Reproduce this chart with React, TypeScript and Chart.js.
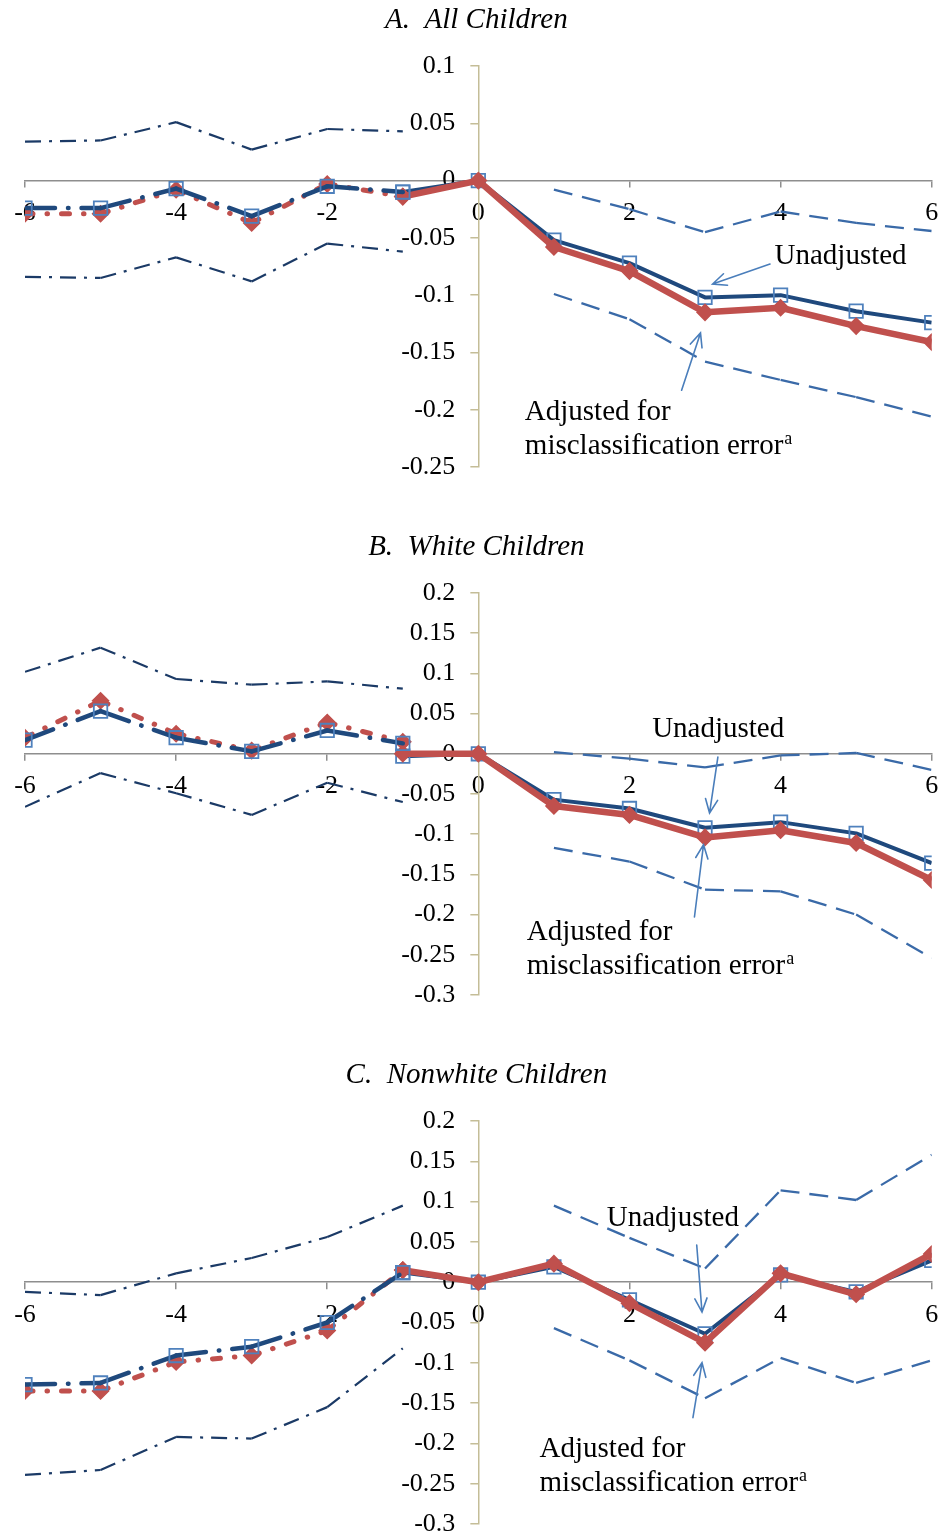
import React, { useEffect, useRef } from 'react';
import { Chart, registerables } from 'chart.js';

Chart.register(...registerables);

// ---------- shared axes ----------
const PRE_X = [-6, -5, -4, -3, -2, -1];
const POST_X = [-1, 0, 1, 2, 3, 4, 5, 6];
const CI_POST_X = [1, 2, 3, 4, 5, 6];
const X_TICKS = [-6, -4, -2, 0, 2, 4, 6];
const X_TICK_LABELS = ['-6', '-4', '-2', '0', '2', '4', '6'];

const Y_TICKS_A = [-0.25, -0.2, -0.15, -0.1, -0.05, 0, 0.05, 0.1];
const Y_TICK_LABELS_A = ['-0.25', '-0.2', '-0.15', '-0.1', '-0.05', '0', '0.05', '0.1'];
const Y_TICKS_BC = [-0.3, -0.25, -0.2, -0.15, -0.1, -0.05, 0, 0.05, 0.1, 0.15, 0.2];
const Y_TICK_LABELS_BC = ['-0.3', '-0.25', '-0.2', '-0.15', '-0.1', '-0.05', '0', '0.05', '0.1', '0.15', '0.2'];

// ---------- Panel A: All Children ----------
const PRE_UNADJ_A = [-0.024, -0.024, -0.007, -0.031, -0.005, -0.010];
const PRE_ADJ_A = [-0.029, -0.029, -0.008, -0.037, -0.003, -0.014];
const PRE_UPPER_A = [0.034, 0.035, 0.051, 0.027, 0.045, 0.043];
const PRE_LOWER_A = [-0.084, -0.085, -0.067, -0.088, -0.055, -0.062];
const POST_UNADJ_A = [-0.010, 0, -0.052, -0.072, -0.102, -0.100, -0.114, -0.124];
const POST_ADJ_A = [-0.014, 0, -0.058, -0.079, -0.115, -0.111, -0.127, -0.141];
const POST_UPPER_A = [-0.008, -0.025, -0.045, -0.027, -0.037, -0.044];
const POST_LOWER_A = [-0.099, -0.121, -0.158, -0.174, -0.189, -0.206];

// ---------- Panel B: White Children ----------
const PRE_UNADJ_B = [0.017, 0.053, 0.020, 0.003, 0.029, 0.013];
const PRE_ADJ_B = [0.020, 0.066, 0.025, 0.004, 0.039, 0.015];
const PRE_UPPER_B = [0.102, 0.132, 0.093, 0.086, 0.090, 0.081];
const PRE_LOWER_B = [-0.066, -0.024, -0.049, -0.076, -0.036, -0.060];
const POST_UNADJ_B = [-0.003, 0, -0.057, -0.068, -0.092, -0.085, -0.099, -0.136];
const POST_ADJ_B = [0, 0, -0.065, -0.076, -0.104, -0.095, -0.111, -0.157];
const POST_UPPER_B = [0.002, -0.006, -0.017, -0.002, 0.001, -0.020];
const POST_LOWER_B = [-0.117, -0.134, -0.169, -0.171, -0.200, -0.254];

// ---------- Panel C: Nonwhite Children ----------
const PRE_UNADJ_C = [-0.127, -0.125, -0.091, -0.080, -0.050, 0.012];
const PRE_ADJ_C = [-0.135, -0.135, -0.099, -0.091, -0.060, 0.015];
const PRE_UPPER_C = [-0.012, -0.016, 0.011, 0.030, 0.056, 0.095];
const PRE_LOWER_C = [-0.239, -0.233, -0.192, -0.194, -0.155, -0.082];
const POST_UNADJ_C = [0.012, 0, 0.019, -0.022, -0.064, 0.009, -0.012, 0.027];
const POST_ADJ_C = [0.015, 0, 0.023, -0.026, -0.075, 0.011, -0.015, 0.035];
const POST_UPPER_C = [0.095, 0.055, 0.017, 0.114, 0.102, 0.158];
const POST_LOWER_C = [-0.057, -0.097, -0.144, -0.094, -0.125, -0.097];

const TITLES = ['A.  All Children', 'B.  White Children', 'C.  Nonwhite Children'];
const UNADJ_LABEL = 'Unadjusted';
const ADJ_LABEL_1 = 'Adjusted for';
const ADJ_LABEL_2 = 'misclassification error';
const ADJ_SUP = 'a';

// ---------- styling ----------
const NAVY = '#1F497D';
const DARK_NAVY = '#1B3A66';
const MARKER_BLUE = '#4F81BD';
const RED = '#C0504D';
const CI_BLUE = '#3A6AA8';
const ARROW_BLUE = '#4A7EBB';
const X_AXIS_GRAY = '#8E8E8E';
const Y_AXIS_TAN = '#C4BD97';
const SERIF = '"Liberation Serif", "Times New Roman", serif';

type Panel = {
  title: string;
  top: number;
  height: number;
  pad: { top: number; bottom: number; left: number; right: number };
  yMin: number;
  yMax: number;
  yTicks: number[];
  yLabels: string[];
  preUnadj: number[];
  preAdj: number[];
  preUpper: number[];
  preLower: number[];
  postUnadj: number[];
  postAdj: number[];
  postUpper: number[];
  postLower: number[];
  unadjText: [number, number];
  unadjArrow: [number, number, number, number];
  adjText: [number, number, number];
  adjArrow: [number, number, number, number];
};

const PANELS: Panel[] = [
  {
    title: TITLES[0], top: 0, height: 528,
    pad: { top: 66, bottom: 61, left: 25, right: 11 },
    yMin: -0.25, yMax: 0.1, yTicks: Y_TICKS_A, yLabels: Y_TICK_LABELS_A,
    preUnadj: PRE_UNADJ_A, preAdj: PRE_ADJ_A, preUpper: PRE_UPPER_A, preLower: PRE_LOWER_A,
    postUnadj: POST_UNADJ_A, postAdj: POST_ADJ_A, postUpper: POST_UPPER_A, postLower: POST_LOWER_A,
    unadjText: [3.92, -0.0658],
    unadjArrow: [3.86, -0.0728, 3.10, -0.0903],
    adjText: [0.615, -0.202, -0.232],
    adjArrow: [2.69, -0.183, 2.94, -0.133],
  },
  {
    title: TITLES[1], top: 528, height: 528,
    pad: { top: 65, bottom: 61, left: 25, right: 11 },
    yMin: -0.3, yMax: 0.2, yTicks: Y_TICKS_BC, yLabels: Y_TICK_LABELS_BC,
    preUnadj: PRE_UNADJ_B, preAdj: PRE_ADJ_B, preUpper: PRE_UPPER_B, preLower: PRE_LOWER_B,
    postUnadj: POST_UNADJ_B, postAdj: POST_ADJ_B, postUpper: POST_UPPER_B, postLower: POST_LOWER_B,
    unadjText: [2.30, 0.0308],
    unadjArrow: [3.17, -0.004, 3.06, -0.0736],
    adjText: [0.64, -0.2216, -0.264],
    adjArrow: [2.86, -0.203, 2.98, -0.113],
  },
  {
    title: TITLES[2], top: 1056, height: 481,
    pad: { top: 65, bottom: 13, left: 25, right: 11 },
    yMin: -0.3, yMax: 0.2, yTicks: Y_TICKS_BC, yLabels: Y_TICK_LABELS_BC,
    preUnadj: PRE_UNADJ_C, preAdj: PRE_ADJ_C, preUpper: PRE_UPPER_C, preLower: PRE_LOWER_C,
    postUnadj: POST_UNADJ_C, postAdj: POST_ADJ_C, postUpper: POST_UPPER_C, postLower: POST_LOWER_C,
    unadjText: [1.70, 0.0797],
    unadjArrow: [2.89, 0.0462, 2.96, -0.037],
    adjText: [0.81, -0.207, -0.249],
    adjArrow: [2.84, -0.168, 2.96, -0.100],
  },
];

const pts = (xs: number[], ys: number[]) => xs.map((x, i) => ({ x, y: ys[i] }));

// restart dash pattern on every segment (as the original does)
const restartDash = { borderDashOffset: (c: any) => (c.p0DataIndex % 2) * 0.001 };

function drawArrow(ctx: CanvasRenderingContext2D, x1: number, y1: number, x2: number, y2: number) {
  const ang = Math.atan2(y2 - y1, x2 - x1);
  const L = 15;
  const spread = 0.42;
  ctx.beginPath();
  ctx.moveTo(x1, y1);
  ctx.lineTo(x2, y2);
  ctx.moveTo(x2 - L * Math.cos(ang - spread), y2 - L * Math.sin(ang - spread));
  ctx.lineTo(x2, y2);
  ctx.lineTo(x2 - L * Math.cos(ang + spread), y2 - L * Math.sin(ang + spread));
  ctx.stroke();
}

// Move both axes so that they cross at (0, 0), like the original figure.
// The scale boxes are widened so their (clipped) tick labels stay visible.
const crossAxes = {
  id: 'crossAxes',
  afterLayout(chart: any) {
    const xs = chart.scales.x;
    const ys = chart.scales.y;
    const px = xs.getPixelForValue(0);
    const py = ys.getPixelForValue(0);
    ys.left = 0;
    ys.right = px;
    ys.width = px;
    xs.top = py;
    xs.bottom = chart.height;
    xs.height = chart.height - py;
  },
};

function decorPlugin(p: Panel) {
  return {
    id: 'panelDecor',
    afterDatasetsDraw(chart: any) {
      const { ctx, chartArea, scales } = chart;
      const xs = scales.x;
      const ys = scales.y;
      ctx.save();
      // title
      ctx.fillStyle = '#000';
      ctx.font = `italic 29px ${SERIF}`;
      ctx.textAlign = 'center';
      ctx.textBaseline = 'alphabetic';
      ctx.fillText(p.title, (chartArea.left + chartArea.right) / 2 - 2, chartArea.top - 38);
      // annotation labels
      ctx.font = `29px ${SERIF}`;
      ctx.textAlign = 'left';
      ctx.textBaseline = 'middle';
      ctx.fillText(UNADJ_LABEL, xs.getPixelForValue(p.unadjText[0]), ys.getPixelForValue(p.unadjText[1]));
      const ax = xs.getPixelForValue(p.adjText[0]);
      ctx.fillText(ADJ_LABEL_1, ax, ys.getPixelForValue(p.adjText[1]));
      const l2 = ys.getPixelForValue(p.adjText[2]);
      ctx.fillText(ADJ_LABEL_2, ax, l2);
      const w = ctx.measureText(ADJ_LABEL_2).width;
      ctx.font = `18px ${SERIF}`;
      ctx.fillText(ADJ_SUP, ax + w + 1, l2 - 7);
      // arrows
      ctx.strokeStyle = ARROW_BLUE;
      ctx.lineWidth = 1.6;
      ctx.lineCap = 'round';
      const a = p.unadjArrow;
      drawArrow(ctx, xs.getPixelForValue(a[0]), ys.getPixelForValue(a[1]), xs.getPixelForValue(a[2]), ys.getPixelForValue(a[3]));
      const b = p.adjArrow;
      drawArrow(ctx, xs.getPixelForValue(b[0]), ys.getPixelForValue(b[1]), xs.getPixelForValue(b[2]), ys.getPixelForValue(b[3]));
      ctx.restore();
    },
  };
}

function buildConfig(p: Panel): any {
  const tickFont = { family: SERIF, size: 26 };
  const zeroSize = (s: any, dim: 'width' | 'height') => {
    s[dim] = 0;
    s.paddingLeft = 0;
    s.paddingRight = 0;
    s.paddingTop = 0;
    s.paddingBottom = 0;
  };
  const square = {
    pointStyle: 'rect', pointRadius: 9.5, pointBorderColor: MARKER_BLUE, pointBorderWidth: 1.8,
    pointBackgroundColor: 'rgba(255,255,255,0)',
  };
  const diamond = {
    pointStyle: 'rectRot', pointRadius: 8, pointBorderColor: RED, pointBorderWidth: 1.5,
    pointBackgroundColor: RED,
  };
  return {
    type: 'line',
    data: {
      datasets: [
        // pre-period
        {
          data: pts(PRE_X, p.preUnadj), order: 1,
          borderColor: NAVY, borderWidth: 4.5, borderDash: [30, 13, 0.5, 13], borderCapStyle: 'round',
          segment: restartDash, ...square,
        },
        {
          data: pts(PRE_X, p.preAdj), order: 2,
          borderColor: RED, borderWidth: 5, borderDash: [8, 14, 0.5, 14], borderCapStyle: 'round',
          segment: restartDash, ...diamond,
        },
        {
          data: pts(PRE_X, p.preUpper), order: 7,
          borderColor: DARK_NAVY, borderWidth: 2.2, borderDash: [16, 8, 3, 8], segment: restartDash,
          pointRadius: 0,
        },
        {
          data: pts(PRE_X, p.preLower), order: 8,
          borderColor: DARK_NAVY, borderWidth: 2.2, borderDash: [16, 8, 3, 8], segment: restartDash,
          pointRadius: 0,
        },
        // post-period
        {
          data: pts(POST_X, p.postAdj), order: 3,
          borderColor: RED, borderWidth: 6.5, borderJoinStyle: 'round', ...diamond,
        },
        {
          data: pts(POST_X, p.postUnadj), order: 4,
          borderColor: NAVY, borderWidth: 4, borderJoinStyle: 'round', ...square,
        },
        {
          data: pts(CI_POST_X, p.postUpper), order: 5,
          borderColor: CI_BLUE, borderWidth: 2.3, borderDash: [19, 10], segment: restartDash,
          pointRadius: 0,
        },
        {
          data: pts(CI_POST_X, p.postLower), order: 6,
          borderColor: CI_BLUE, borderWidth: 2.3, borderDash: [19, 10], segment: restartDash,
          pointRadius: 0,
        },
      ],
    },
    options: {
      responsive: false,
      animation: false,
      events: [],
      layout: { padding: p.pad },
      elements: { line: { tension: 0 } },
      plugins: {
        legend: { display: false },
        title: { display: false },
        tooltip: { enabled: false },
      },
      scales: {
        x: {
          type: 'linear',
          min: -6,
          max: 6,
          position: 'bottom',
          afterBuildTicks: (s: any) => { s.ticks = X_TICKS.map((v) => ({ value: v })); },
          afterFit: (s: any) => zeroSize(s, 'height'),
          grid: {
            drawOnChartArea: false, drawTicks: true, tickLength: 7,
            color: X_AXIS_GRAY, lineWidth: 1.5, tickColor: X_AXIS_GRAY, tickWidth: 1.5,
          },
          border: { display: true, color: X_AXIS_GRAY, width: 1.5 },
          ticks: {
            font: tickFont, color: '#000', padding: 10, maxRotation: 0, autoSkip: false,
            callback: (v: number) => { const i = X_TICKS.indexOf(v); return i >= 0 ? X_TICK_LABELS[i] : ''; },
          },
        },
        y: {
          type: 'linear',
          min: p.yMin,
          max: p.yMax,
          position: 'left',
          afterBuildTicks: (s: any) => { s.ticks = p.yTicks.map((v) => ({ value: v })); },
          afterFit: (s: any) => zeroSize(s, 'width'),
          grid: {
            drawOnChartArea: false, drawTicks: true, tickLength: 8,
            color: Y_AXIS_TAN, lineWidth: 1.5, tickColor: Y_AXIS_TAN, tickWidth: 1.5,
          },
          border: { display: true, color: Y_AXIS_TAN, width: 1.5 },
          ticks: {
            font: tickFont, color: '#000', padding: 15, autoSkip: false,
            callback: (v: number) => { const i = p.yTicks.indexOf(v); return i >= 0 ? p.yLabels[i] : ''; },
          },
        },
      },
    },
    plugins: [crossAxes, decorPlugin(p)],
  };
}

function PanelChart({ panel }: { panel: Panel }) {
  const ref = useRef<HTMLCanvasElement | null>(null);
  useEffect(() => {
    if (!ref.current) return;
    const chart = new Chart(ref.current, buildConfig(panel));
    return () => chart.destroy();
  }, [panel]);
  return (
    <canvas
      ref={ref}
      width={943}
      height={panel.height}
      style={{ position: 'absolute', left: 0, top: panel.top, width: 943, height: panel.height, display: 'block' }}
    />
  );
}

export default function App() {
  return (
    <div style={{ position: 'fixed', left: 0, top: 0, width: 943, height: 1537, background: '#fff', overflow: 'hidden' }}>
      {PANELS.map((p, i) => (
        <PanelChart key={i} panel={p} />
      ))}
    </div>
  );
}
